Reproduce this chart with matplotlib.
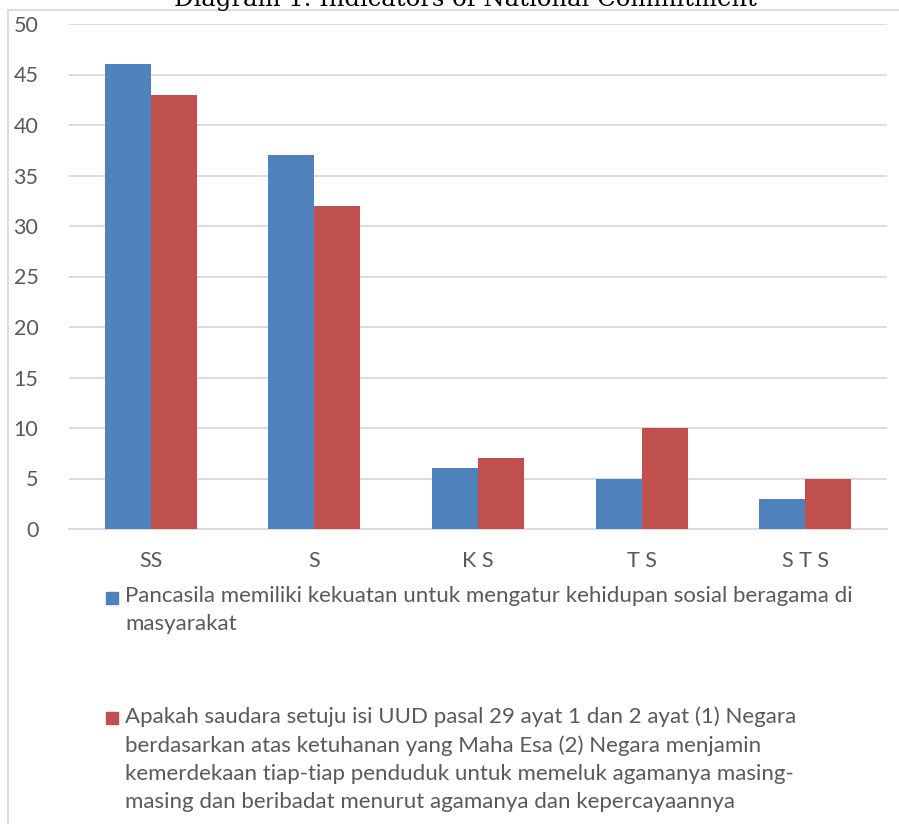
import numpy as np
import matplotlib
matplotlib.use("Agg")
import matplotlib.pyplot as plt
from matplotlib.patches import Rectangle

# data
kategori = ["SS", "S", "K S", "T S", "S T S"]
pancasila = [46, 37, 6, 5, 3]
uud = [43, 32, 7, 10, 5]
label_pancasila = ("Pancasila memiliki kekuatan untuk mengatur kehidupan sosial beragama di\n"
                   "masyarakat")
label_uud = ("Apakah saudara setuju isi UUD pasal 29 ayat 1 dan 2 ayat (1) Negara\n"
             "berdasarkan atas ketuhanan yang Maha Esa (2) Negara menjamin\n"
             "kemerdekaan tiap-tiap penduduk untuk memeluk agamanya masing-\n"
             "masing dan beribadat menurut agamanya dan kepercayaannya")
judul = "Diagram 1. Indicators of National Commitment"

biru = "#4f81bd"
merah = "#c0504d"
abu = "#595959"
garis = "#d9d9d9"

W, H = 899, 824
fig = plt.figure(figsize=(W / 100, H / 100), dpi=100)
plt.rcParams['font.family'] = ['Lato', 'DejaVu Sans']

# border of chart area
fig.patches.append(Rectangle((8 / W, -0.1), 1.2, 1 - 10 / H + 0.1, transform=fig.transFigure,
                             fill=False, edgecolor=garis, linewidth=1.3))

fig.text(465 / W, 1 - 6 / H, judul, ha='center', va='baseline', fontsize=17.5,
         family='DejaVu Serif', color='black')

ax = fig.add_axes([69 / W, 1 - 529 / H, (887 - 69) / W, (529 - 24) / H])
x = np.arange(len(kategori))
lebar = 0.281
ax.bar(x - lebar / 2, pancasila, lebar, color=biru, zorder=3)
ax.bar(x + lebar / 2, uud, lebar, color=merah, zorder=3)

ax.set_xlim(-0.5, len(kategori) - 0.5)
ax.set_ylim(0, 50)
ax.set_yticks(range(0, 51, 5))
ax.set_xticks(x)
ax.set_xticklabels(kategori)
ax.yaxis.grid(True, color=garis, linewidth=1.3, zorder=0)
ax.set_axisbelow(True)
for s in ['top', 'right', 'left']:
    ax.spines[s].set_visible(False)
ax.spines['bottom'].set_color(garis)
ax.spines['bottom'].set_linewidth(1.3)
ax.tick_params(axis='both', length=0, labelsize=15.5, colors=abu)
ax.tick_params(axis='y', pad=22)
ax.tick_params(axis='x', pad=16)

# legend
def entri(y_px, teks, warna):
    fig.patches.append(Rectangle((106 / W, 1 - (y_px + 6) / H), 12 / W, 12 / H,
                                 transform=fig.transFigure, color=warna))
    fig.text(125 / W, 1 - (y_px - 12) / H, teks, ha='left', va='top', fontsize=16,
             color=abu, linespacing=1.52)

entri(598, label_pancasila, biru)
entri(718, label_uud, merah)

fig.savefig("out.png", dpi=100)
